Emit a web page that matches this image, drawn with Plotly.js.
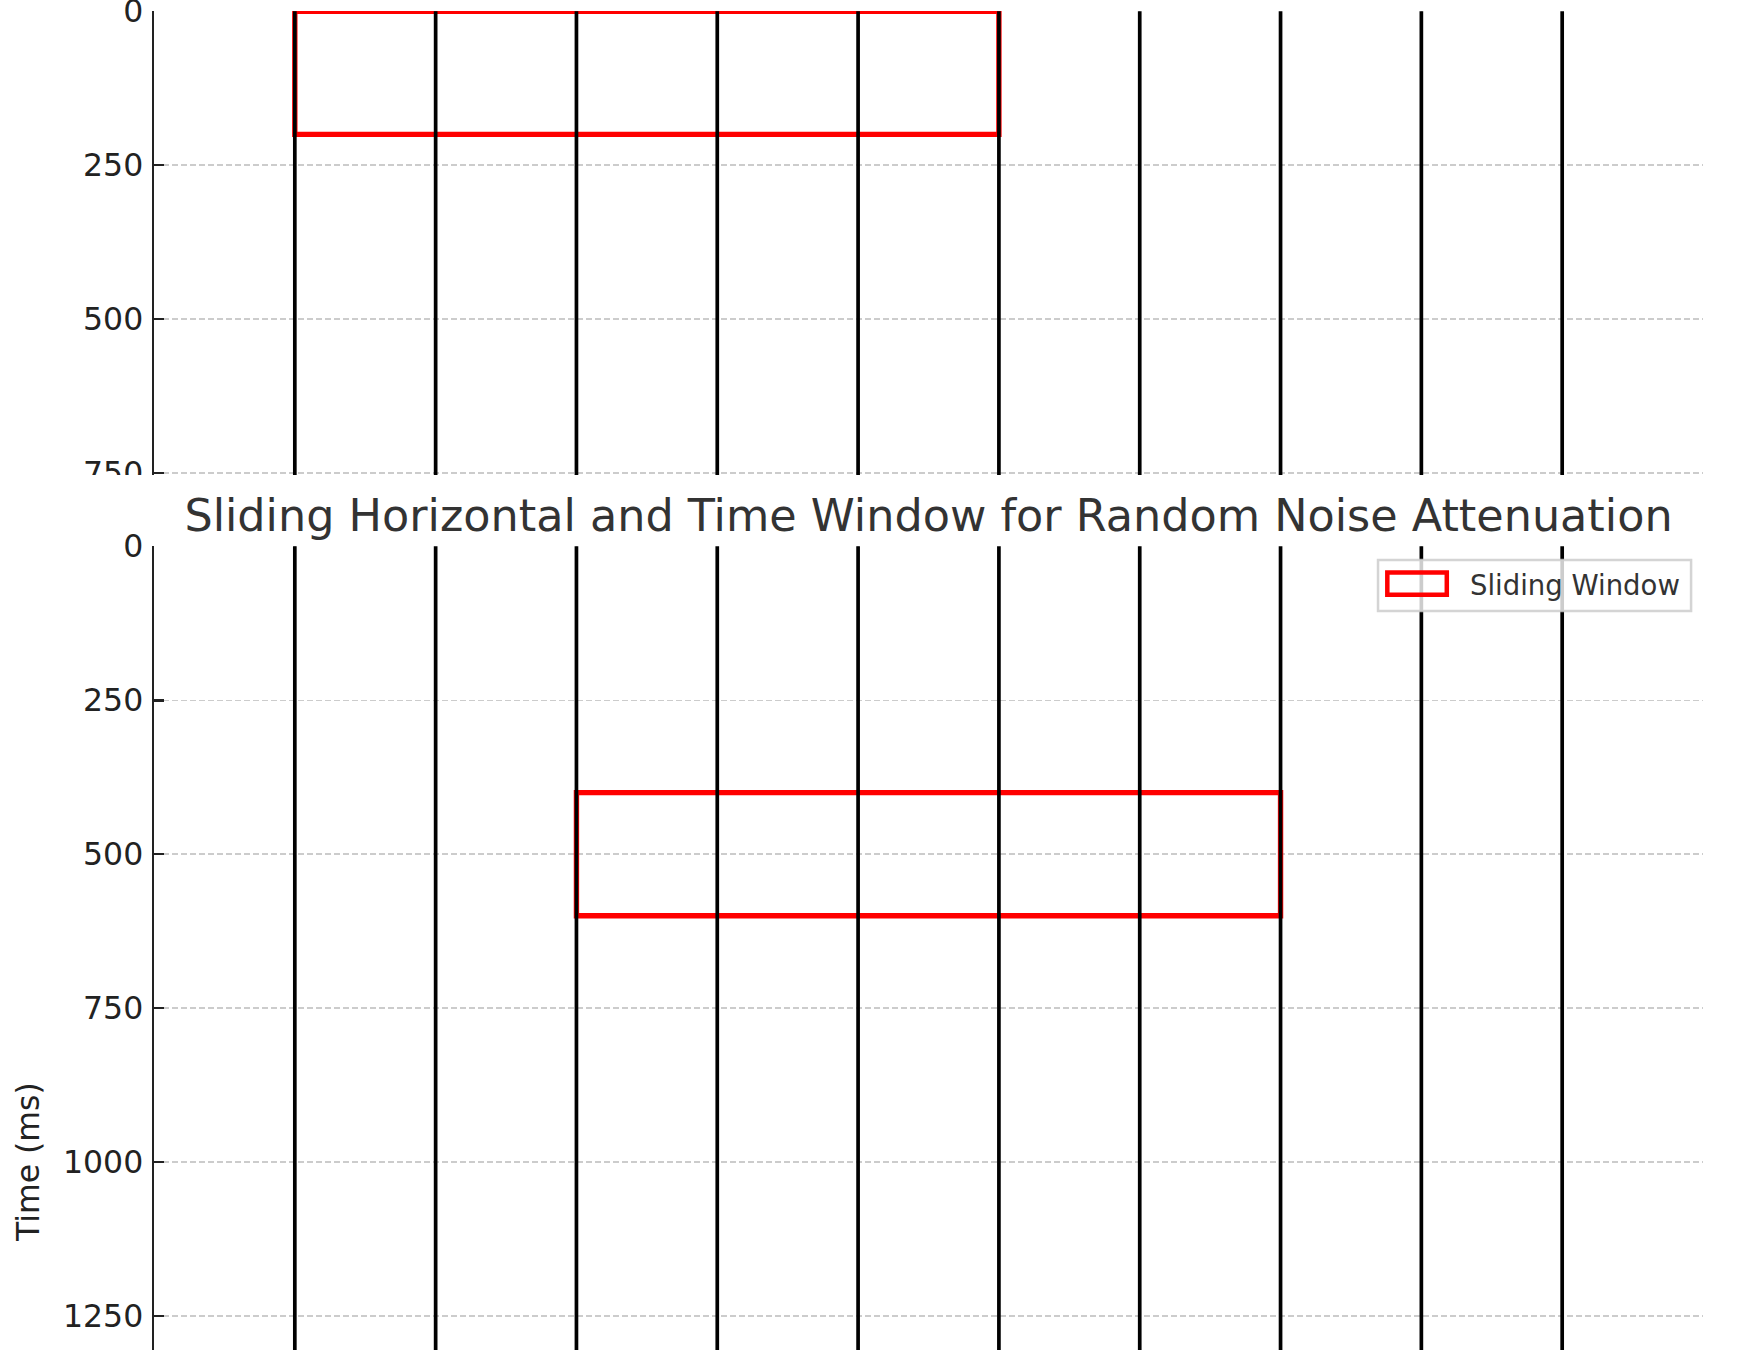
<!DOCTYPE html>
<html>
<head>
<meta charset="utf-8">
<script src="https://cdn.plot.ly/plotly-3.0.1.min.js"></script>
<style>
  html, body { margin: 0; padding: 0; background: #fff; }
  #chart { width: 1743px; height: 1350px; }
</style>
</head>
<body>
<div id="chart"></div>
<script>
// seismic traces (offset index) and the time span they cover
var traceOffsets = [0, 1, 2, 3, 4, 5, 6, 7, 8, 9];
var traceTimes = [0, 2000];

// sliding windows: top panel = first position, bottom panel = shifted position
var windowStartTrace = [0, 2];
var windowEndTrace = [5, 7];
var windowStartTime = [0, 400];
var windowEndTime = [200, 600];
var windowLabel = 'Sliding Window';

var yTicksTop = [0, 250, 500, 750];
var yTicksBottom = [0, 250, 500, 750, 1000, 1250];

var font = 'DejaVu Sans, sans-serif';
var gridColor = '#cccccc';
var red = '#ff0000';

// one line trace per subplot, traces separated by nulls
function traceLines(xa, ya) {
    var xs = [], ys = [];
    traceOffsets.forEach(function (o) {
        xs.push(o, o, null);
        ys.push(traceTimes[0], traceTimes[1], null);
    });
    return {
        type: 'scatter',
        mode: 'lines',
        x: xs,
        y: ys,
        xaxis: xa,
        yaxis: ya,
        line: {color: '#000000', width: 3.7},
        hoverinfo: 'skip',
        showlegend: false
    };
}

var data = [traceLines('x', 'y'), traceLines('x2', 'y2')];

var shapes = [];
['', '2'].forEach(function (s, i) {
    shapes.push({
        type: 'rect',
        xref: 'x' + s,
        yref: 'y' + s,
        x0: windowStartTrace[i],
        x1: windowEndTrace[i],
        y0: windowStartTime[i],
        y1: windowEndTime[i],
        line: {color: red, width: 5.4},
        fillcolor: 'rgba(0,0,0,0)',
        layer: 'between'
    });
});

// the lower panel sits on top of the upper one and hides the end of its labels
shapes.push({
    type: 'rect', xref: 'paper', yref: 'paper',
    x0: -0.1, x1: -0.002, y0: 0.611, y1: 0.6535,
    fillcolor: '#ffffff', line: {width: 0}, layer: 'above'
});

// legend box (semi transparent, traces show through) and its patch
shapes.push({
    type: 'rect', xref: 'paper', yref: 'paper',
    x0: 0.7902, x1: 0.9923, y0: 0.5519, y1: 0.5900,
    fillcolor: 'rgba(255,255,255,0.8)',
    line: {color: 'rgba(204,204,204,0.85)', width: 2.5},
    layer: 'above'
});
shapes.push({
    type: 'rect', xref: 'paper', yref: 'paper',
    x0: 0.7962, x1: 0.8346, y0: 0.5641, y1: 0.5806,
    fillcolor: 'rgba(0,0,0,0)',
    line: {color: red, width: 4.5},
    layer: 'above'
});

function xAxis(anchor) {
    return {
        anchor: anchor,
        domain: [0, 1],
        range: [-1, 10],
        tick0: 0,
        dtick: 2,
        showgrid: true,
        gridcolor: gridColor,
        gridwidth: 1.5,
        griddash: '6px,3px',
        zeroline: false,
        showline: false,
        ticks: '',
        showticklabels: false
    };
}

function yAxis(anchor, domain, range, ticks) {
    return {
        anchor: anchor,
        domain: domain,
        range: range,
        tickvals: ticks,
        ticks: 'inside',
        ticklen: 10,
        tickwidth: 2.5,
        tickcolor: '#222222',
        showline: true,
        linecolor: '#222222',
        linewidth: 2.5,
        showgrid: true,
        gridcolor: gridColor,
        gridwidth: 1.5,
        griddash: '6px,3px',
        zeroline: false,
        ticklabelstandoff: 2,
        ticklabeloverflow: 'allow',
        tickfont: {family: font, size: 31.5, color: '#222222'}
    };
}

var layout = {
    width: 1743,
    height: 1350,
    margin: {l: 154, r: 40, t: 11, b: 0},
    paper_bgcolor: '#ffffff',
    plot_bgcolor: '#ffffff',
    font: {family: font, color: '#333333'},
    title: {
        text: 'Sliding Horizontal and Time Window for Random Noise Attenuation',
        font: {family: font, size: 44.5, color: '#333333'},
        x: 0.5,
        xref: 'paper',
        xanchor: 'center',
        y: 0.6185,
        yref: 'container',
        yanchor: 'middle'
    },
    xaxis: xAxis('y'),
    yaxis: yAxis('x', [0.6535, 1], [753, -0.4], yTicksTop),
    xaxis2: xAxis('y2'),
    yaxis2: yAxis('x2', [0, 0.6004], [1305, -0.4], yTicksBottom),
    shapes: shapes,
    annotations: [{
        text: 'Time (ms)',
        xref: 'paper', yref: 'paper',
        x: -0.0813, y: 0.1404,
        xanchor: 'center', yanchor: 'middle',
        textangle: -90,
        showarrow: false,
        font: {family: font, size: 31.5, color: '#222222'}
    }, {
        text: windowLabel,
        xref: 'paper', yref: 'paper',
        x: 0.8483, y: 0.5711,
        xanchor: 'left', yanchor: 'middle',
        showarrow: false,
        font: {family: font, size: 27.5, color: '#333333'}
    }],
    showlegend: false
};

Plotly.newPlot('chart', data, layout, {displayModeBar: false, staticPlot: true});
</script>
</body>
</html>
